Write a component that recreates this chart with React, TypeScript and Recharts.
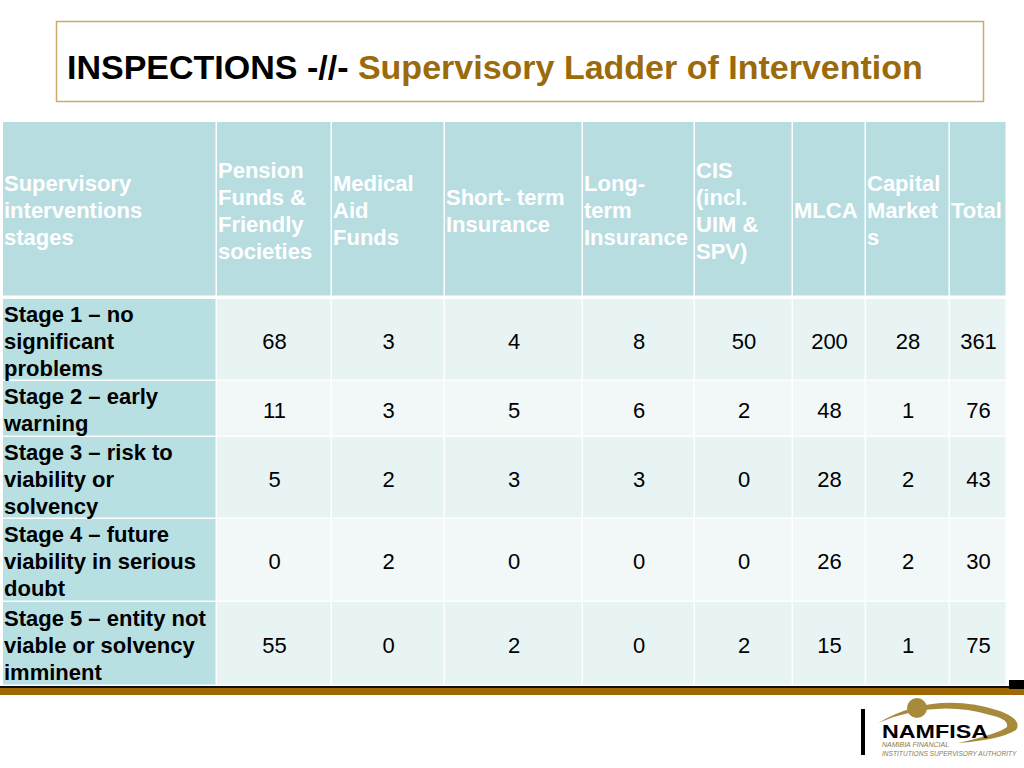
import React from "react";
import { ScatterChart, Scatter, XAxis, YAxis, Customized } from "recharts";

// ---------- data ----------
const cornerHeader = ["Supervisory", "interventions", "stages"];
const columnHeaders = [
  ["Pension", "Funds &", "Friendly", "societies"],
  ["Medical", "Aid", "Funds"],
  ["Short- term", "Insurance"],
  ["Long-", "term", "Insurance"],
  ["CIS", "(incl.", "UIM &", "SPV)"],
  ["MLCA"],
  ["Capital", "Market", "s"],
  ["Total"],
];
const stageLabels = [
  ["Stage 1 \u2013 no", "significant", "problems"],
  ["Stage 2 \u2013 early", "warning"],
  ["Stage 3 \u2013 risk to", "viability or", "solvency"],
  ["Stage 4 \u2013 future", "viability in serious", "doubt"],
  ["Stage 5 \u2013 entity not", "viable or solvency", "imminent"],
];
const pensionFunds = [68, 11, 5, 0, 55];
const medicalAid = [3, 3, 2, 2, 0];
const shortTerm = [4, 5, 3, 0, 2];
const longTerm = [8, 6, 3, 0, 0];
const cis = [50, 2, 0, 0, 2];
const mlca = [200, 48, 28, 26, 15];
const capitalMarkets = [28, 1, 2, 2, 1];
const totals = [361, 76, 43, 30, 75];
const seriesColumns = [pensionFunds, medicalAid, shortTerm, longTerm, cis, mlca, capitalMarkets, totals];

// ---------- layout ----------
const W = 1024;
const H = 768;
const colEdges = [3, 217, 332, 445, 583, 695, 793, 866, 950, 1007];
const rowEdges = [122, 297, 299, 381, 437, 519, 602, 686]; // header top/bottom, then body rows
const bodyEdges = rowEdges.slice(2);
const FONT = "'Liberation Sans', Arial, Helvetica, sans-serif";
const LINE = 27;
const headerFill = "#b7dde1";
const stageFill = "#b8dfe2";
const oddFill = "#e8f3f4";
const evenFill = "#f2f7f8";

type Cell = {
  x: number;
  y: number;
  w: number;
  h: number;
  fill: string;
  lines: string[];
  align: "start" | "middle";
  color: string;
  bold: boolean;
  textY: number;
};

const cells: Cell[] = [];
// header row
for (let c = 0; c < colEdges.length - 1; c++) {
  const x0 = colEdges[c];
  const x1 = colEdges[c + 1];
  cells.push({
    x: (x0 + x1) / 2,
    y: (rowEdges[0] + rowEdges[1]) / 2,
    w: x1 - x0,
    h: rowEdges[1] - rowEdges[0],
    fill: headerFill,
    lines: c === 0 ? cornerHeader : columnHeaders[c - 1],
    align: "start",
    color: "#ffffff",
    bold: true,
    textY: 210.5,
  });
}
// body rows
stageLabels.forEach((label, r) => {
  const y0 = bodyEdges[r];
  const y1 = bodyEdges[r + 1];
  const cy = (y0 + y1) / 2;
  for (let c = 0; c < colEdges.length - 1; c++) {
    const x0 = colEdges[c];
    const x1 = colEdges[c + 1];
    cells.push({
      x: (x0 + x1) / 2,
      y: cy,
      w: x1 - x0,
      h: y1 - y0,
      fill: c === 0 ? stageFill : r % 2 === 0 ? oddFill : evenFill,
      lines: c === 0 ? label : [String(seriesColumns[c - 1][r])],
      align: c === 0 ? "start" : "middle",
      color: "#000000",
      bold: c === 0,
      textY: cy + 1,
    });
  }
});

const CellShape = (props: any) => {
  const { cx, cy, payload } = props;
  const p = payload as Cell;
  if (cx == null || cy == null) return null;
  const left = cx - p.w / 2;
  const top = cy - p.h / 2;
  const n = p.lines.length;
  const textCenterOffset = p.textY - p.y;
  const tx = p.align === "start" ? left + 1 : cx;
  return (
    <g>
      <rect x={left} y={top} width={p.w - 1.5} height={p.h - 1.5} fill={p.fill} />
      {p.lines.map((ln, i) => (
        <text
          key={i}
          x={tx}
          y={cy + textCenterOffset + (i - (n - 1) / 2) * LINE}
          textAnchor={p.align}
          dominantBaseline="central"
          fontFamily={FONT}
          fontSize={22}
          fontWeight={p.bold ? "bold" : "normal"}
          fill={p.color}
        >
          {ln}
        </text>
      ))}
    </g>
  );
};

const Decorations = () => (
  <g>
    {/* title box */}
    <rect x={56.5} y={21.5} width={927} height={80} fill="#ffffff" stroke="#c9ab6b" strokeWidth={1.5} />
    <text x={67} y={79} fontFamily={FONT} fontSize={34} fontWeight="bold">
      <tspan fill="#000000">INSPECTIONS -//- </tspan>
      <tspan fill="#9b6a0a">Supervisory Ladder of Intervention</tspan>
    </text>
    {/* bottom bar */}
    <rect x={0} y={686} width={1010} height={2} fill="#111111" />
    <rect x={0} y={688} width={W} height={7} fill="#9e6806" />
    <rect x={1009} y={680} width={15} height={9} fill="#000000" />
    {/* logo */}
    <rect x={861} y={709} width={4} height={46} fill="#000000" />
    <circle cx={917} cy={708} r={10} fill="#a88a3c" />
    <path
      d="M878,723 Q935,690 1000,711 Q1023,720 1016,730 Q1000,740 958,743 Q998,734 1007,727 Q1009,719 990,715 Q935,699 878,723 Z"
      fill="#a88a3c"
    />
    <text x={882} y={738} fontFamily={FONT} fontSize={18} fontWeight="bold" fill="#000000" textLength={106} lengthAdjust="spacingAndGlyphs">
      NAMFISA
    </text>
    <text x={882} y={747} fontFamily={FONT} fontSize={7} fontStyle="italic" fill="#8a7a4c">
      NAMIBIA FINANCIAL
    </text>
    <text x={882} y={756} fontFamily={FONT} fontSize={6.6} fontStyle="italic" fill="#8a7a4c">
      INSTITUTIONS SUPERVISORY AUTHORITY
    </text>
  </g>
);

export default function App() {
  return (
    <div style={{ position: "absolute", left: 0, top: 0, width: W, height: H, background: "#ffffff" }}>
      <ScatterChart width={W} height={H} margin={{ top: 0, right: 0, bottom: 0, left: 0 }}>
        <XAxis dataKey="x" type="number" domain={[0, W]} hide allowDataOverflow />
        <YAxis dataKey="y" type="number" domain={[0, H]} reversed hide allowDataOverflow width={0} />
        <Customized component={Decorations} />
        <Scatter data={cells} shape={CellShape} isAnimationActive={false} />
      </ScatterChart>
    </div>
  );
}
